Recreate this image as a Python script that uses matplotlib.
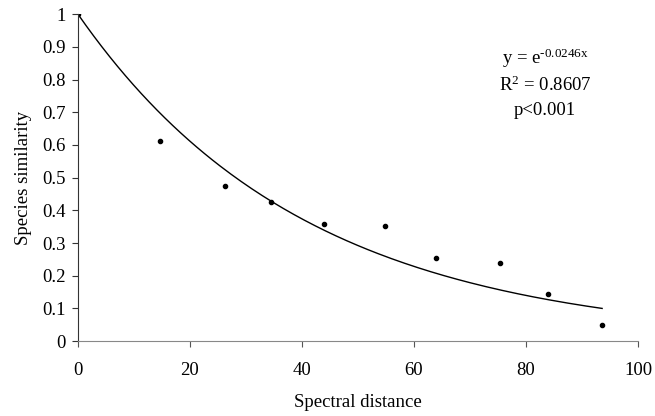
import numpy as np
import matplotlib.pyplot as plt
from matplotlib.ticker import FuncFormatter

plt.rcParams['font.family'] = ['Liberation Serif', 'DejaVu Serif']
plt.rcParams['mathtext.fontset'] = 'custom'
plt.rcParams['mathtext.rm'] = 'Liberation Serif'
plt.rcParams['mathtext.default'] = 'regular'

spectral_distance = [0, 14.6, 26.3, 34.4, 44.0, 54.9, 63.9, 75.4, 83.9, 93.5]
species_similarity = [1.0, 0.611, 0.474, 0.426, 0.359, 0.352, 0.253, 0.240, 0.144, 0.049]

# fitted exponential trend, coefficient as printed on the chart
decay_rate = 0.0246
fit_x = np.linspace(0, 93.6, 200)
fit_y = np.exp(-decay_rate * fit_x)

fig = plt.figure(figsize=(6.55, 4.16), dpi=100)
ax = fig.add_axes([0.119, 0.180, 0.855, 0.786])

ax.plot(fit_x, fit_y, color='black', lw=1.0)
ax.plot(spectral_distance, species_similarity, 'ko', ms=3)

ax.set_xlim(0, 100)
ax.set_ylim(0, 1)
ax.set_xticks([0, 20, 40, 60, 80, 100])
ax.set_yticks(np.arange(0, 1.01, 0.1))
ax.yaxis.set_major_formatter(FuncFormatter(lambda v, p: '%g' % round(v, 1)))

for s in ['top', 'right']:
    ax.spines[s].set_visible(False)
ax.spines['left'].set_color('#333333')
ax.spines['bottom'].set_color('#888888')
ax.tick_params(axis='both', direction='out', length=4, labelsize=13.5, pad=5)
ax.tick_params(axis='x', color='#555555', pad=11)
ax.tick_params(axis='y', color='#333333')

ax.set_xlabel('Spectral distance', fontsize=13.5, labelpad=11)
ax.set_ylabel('Species similarity', fontsize=13.5, labelpad=7)

ax.text(0.834, 0.865, r'y = e$^{\text{-0.0246x}}$', transform=ax.transAxes,
        ha='center', va='center', fontsize=13.5)
ax.text(0.834, 0.783, 'R$^2$ = 0.8607', transform=ax.transAxes,
        ha='center', va='center', fontsize=13.5)
ax.text(0.834, 0.706, 'p<0.001', transform=ax.transAxes,
        ha='center', va='center', fontsize=13.5)

fig.savefig('out.png', dpi=100)
